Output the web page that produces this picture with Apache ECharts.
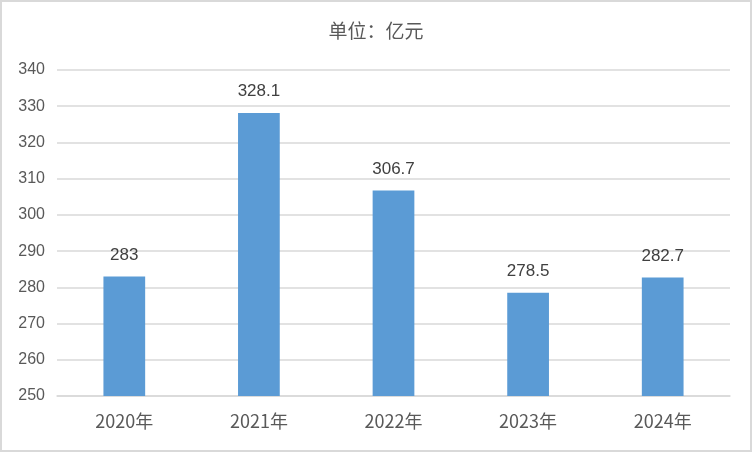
<!DOCTYPE html>
<html><head><meta charset="utf-8">
<script src="https://cdn.jsdelivr.net/npm/echarts@6/dist/echarts.min.js"></script>
<style>html,body{margin:0;padding:0;background:#fff}#c{width:748px;height:448px;border:2px solid #d9d9d9}</style>
</head><body><div id="c"></div>
<script>
const categories = ['2020年','2021年','2022年','2023年','2024年'];
const values = [283, 328.1, 306.7, 278.5, 282.7];
const chart = echarts.init(document.getElementById('c'));
chart.setOption({
  animation:false,
  title:{text:'单位：亿元',left:'center',top:14,textStyle:{fontSize:19,fontWeight:'normal',color:'#595959',fontFamily:'Noto Sans CJK SC'}},
  grid:{left:55,right:20,top:68,bottom:54},
  xAxis:{type:'category',data:categories,axisTick:{show:false},axisLine:{lineStyle:{color:'#d9d9d9',width:1.5}},
    axisLabel:{fontSize:18,color:'#595959',margin:16,fontFamily:'Noto Sans CJK SC'}},
  yAxis:{type:'value',min:250,max:340,interval:10,axisLine:{show:false},axisTick:{show:false},
    splitLine:{lineStyle:{color:'#d9d9d9',width:1.5}},axisLabel:{fontSize:16,color:'#595959',margin:12,fontFamily:'Liberation Sans'}},
  series:[{type:'bar',data:values,barWidth:'31%',itemStyle:{color:'#5b9bd5'},
    label:{show:true,position:'top',distance:13,fontSize:17,color:'#404040',fontFamily:'Liberation Sans'}}]
});
</script></body></html>
